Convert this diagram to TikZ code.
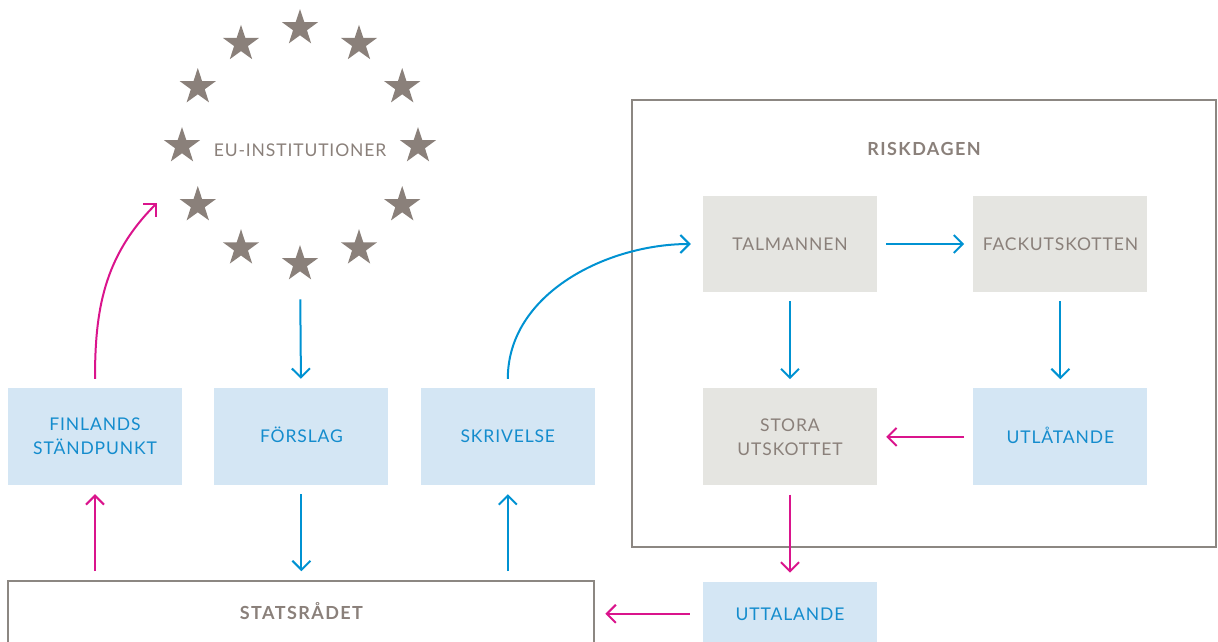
\documentclass[tikz,border=0pt]{standalone}
\usepackage{fontspec}
\setmainfont{Lato}[LetterSpace=5]
\usepackage{xcolor}
\usepackage{tikz}
\usetikzlibrary{shapes.geometric,arrows.meta,positioning}
\definecolor{arrowblue}{RGB}{0,146,210}
\definecolor{arrowpink}{RGB}{218,20,140}
\definecolor{boxblue}{RGB}{212,230,244}
\definecolor{boxgray}{RGB}{229,229,225}
\definecolor{textblue}{RGB}{20,140,205}
\definecolor{textgray}{RGB}{138,128,122}
\definecolor{framegray}{RGB}{140,135,130}

\begin{document}
\begin{tikzpicture}[
    x=1pt, y=-1pt,
    every node/.style={font=\fontsize{17.5}{24}\selectfont},
    bluebox/.style={rectangle, fill=boxblue, text=textblue, minimum width=174pt, minimum height=97pt, inner sep=0pt, align=center},
    graybox/.style={bluebox, fill=boxgray, text=textgray},
    oneline/.style={text height=12.5pt, text depth=0pt},
    frame/.style={rectangle, draw=framegray, line width=2pt, inner sep=0pt},
    head/.style={text=textgray, font=\fontsize{18}{24}\selectfont\bfseries\addfontfeatures{LetterSpace=8}},
    eustar/.style={star, star points=5, star point ratio=2.6, fill=textgray, minimum size=38pt, inner sep=0pt, outer sep=0pt},
    bluearrow/.style={draw=arrowblue, line width=2pt, -{Straight Barb[length=9pt,width=18pt]}, shorten <=9pt, shorten >=9pt},
    pinkarrow/.style={bluearrow, draw=arrowpink}
]
\useasboundingbox (0,0) rectangle (1218,641);

% EU ring
\coordinate (ring) at (300,146);
\node[text=textgray] (eu) at (300,150) {EU-INSTITUTIONER};
\node[eustar] (st1) at (300,28) {};
\node[eustar] (st2) at (359,43.8) {};
\node[eustar] (st3) at (402.2,87) {};
\node[eustar] (st4) at (418,146) {};
\node[eustar] (st5) at (402.2,205) {};
\node[eustar] (st6) at (359,248.2) {};
\node[eustar] (st7) at (300,264) {};
\node[eustar] (st8) at (241,248.2) {};
\node[eustar] (st9) at (197.8,205) {};
\node[eustar] (st10) at (182,146) {};
\node[eustar] (st11) at (197.8,87) {};
\node[eustar] (st12) at (241,43.8) {};
\coordinate (euin) at (157,203);

% government side
\node[bluebox] (fin) at (95,436.5) {FINLANDS\\STÄNDPUNKT};
\node[bluebox, oneline, right=32pt of fin] (forslag) {FÖRSLAG};
\node[bluebox, oneline, right=32pt of forslag] (skriv) {SKRIVELSE};
\node[frame, head, oneline, minimum width=586pt, minimum height=64pt, below=95pt of forslag] (statsradet) {STATSRÅDET};

% parliament
\node[frame, minimum width=584pt, minimum height=447pt] (riksdagen) at (924,323.5) {};
\node[head, oneline] (risktitle) at ([yshift=-50pt]riksdagen.north) {RISKDAGEN};
\node[graybox, oneline, minimum height=96pt] (talmannen) at (790,244) {TALMANNEN};
\node[graybox, oneline, minimum height=96pt, right=96pt of talmannen] (fack) {FACKUTSKOTTEN};
\node[graybox, below=96pt of talmannen] (stora) {STORA\\UTSKOTTET};
\node[bluebox, oneline, right=96pt of stora] (utlat) {UTLÅTANDE};
\node[bluebox, oneline, minimum height=64pt, below=96pt of stora] (uttal) {UTTALANDE};

% arrows
\draw[bluearrow, shorten <=28pt] (st7) -- (forslag);
\draw[bluearrow] (forslag) -- (statsradet);
\draw[pinkarrow] (fin |- statsradet.north) -- (fin);
\draw[bluearrow] (skriv |- statsradet.north) -- (skriv);
\draw[pinkarrow, shorten >=0pt] (fin.north) to[out=90, in=225] (euin);
\draw[bluearrow, shorten >=12pt] (skriv.north) to[out=90, in=180] (talmannen.west);
\draw[bluearrow] (talmannen) -- (fack);
\draw[bluearrow] (talmannen) -- (stora);
\draw[bluearrow] (fack) -- (utlat);
\draw[pinkarrow] (utlat) -- (stora);
\draw[pinkarrow] (stora) -- (uttal);
\draw[pinkarrow, shorten <=13pt, shorten >=10pt] (uttal) -- (statsradet.east |- uttal);

\end{tikzpicture}
\end{document}
